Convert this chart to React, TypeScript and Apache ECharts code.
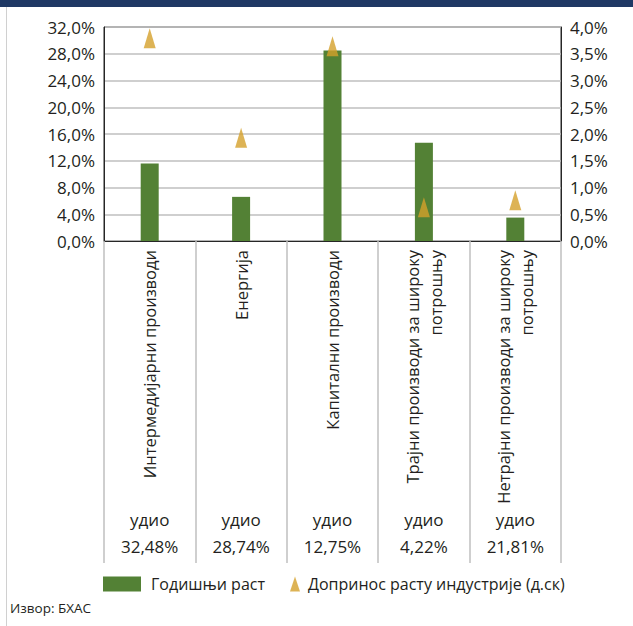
import React, { useEffect, useRef } from "react";
import * as echarts from "echarts";

const categories = [
  "Интермедијарни производи",
  "Енергија",
  "Капитални производи",
  "Трајни производи за широку\nпотрошњу",
  "Нетрајни производи за широку\nпотрошњу",
];
const shares = ["32,48%", "28,74%", "12,75%", "4,22%", "21,81%"];
const shareLabel = "удио";
const annualGrowth = [11.6, 6.6, 28.5, 14.7, 3.5];
const contribution = [3.79, 1.93, 3.64, 0.63, 0.76];
const seriesNames = ["Годишњи раст", "Допринос расту индустрије (д.ск)"];
const sourceText = "Извор: БХАС";

const FONT = "'Open Sans', 'Noto Sans', sans-serif";
const TXT = "#231f20";

const fmt = (v: number) => v.toFixed(1).replace(".", ",") + "%";

export default function App() {
  const ref = useRef<HTMLDivElement>(null);
  useEffect(() => {
    if (!ref.current) return;
    const chart = echarts.init(ref.current, undefined, { renderer: "svg" });
    chart.setOption({
      animation: false,
      backgroundColor: "#ffffff",
      textStyle: { fontFamily: FONT },
      grid: {
        left: 104,
        right: 72,
        top: 27,
        bottom: 385,
        show: true,
        borderColor: "#262626",
        borderWidth: 1,
      },
      legend: [
        {
          data: [{ name: seriesNames[0], icon: "rect" }],
          left: 98,
          top: 571,
          itemWidth: 38,
          itemHeight: 15,
          textStyle: { fontSize: 16, color: TXT, fontFamily: FONT, padding: [0, 0, 0, 5] },
        },
        {
          data: [{ name: seriesNames[1], icon: "triangle" }],
          left: 285,
          top: 571,
          itemWidth: 10,
          itemHeight: 15,
          textStyle: { fontSize: 16, color: TXT, fontFamily: FONT, padding: [0, 0, 0, 3] },
        },
      ],
      xAxis: [
        {
          type: "category",
          data: categories,
          position: "bottom",
          axisLine: { show: true, lineStyle: { color: "#262626", width: 1 } },
          axisTick: { show: true, length: 322, lineStyle: { color: "#bfbfbf", width: 1.5 } },
          axisLabel: {
            interval: 0,
            rotate: 90,
            margin: 9,
            fontSize: 16.5,
            lineHeight: 23,
            color: TXT,
            fontFamily: FONT,
          },
        },
        {
          type: "category",
          data: shares,
          position: "bottom",
          offset: 265,
          axisLine: { show: false },
          axisTick: { show: false },
          axisLabel: {
            interval: 0,
            margin: 0,
            fontSize: 17,
            lineHeight: 27,
            color: TXT,
            fontFamily: FONT,
            formatter: (v: string) => shareLabel + "\n" + v,
          },
        },
      ],
      yAxis: [
        {
          type: "value",
          min: 0,
          max: 32,
          interval: 4,
          axisLine: { show: true, lineStyle: { color: "#262626" } },
          axisTick: { show: false },
          splitLine: { show: true, lineStyle: { color: "#bfbfbf", width: 1.5 } },
          axisLabel: { fontSize: 17, color: TXT, margin: 9, fontFamily: FONT, formatter: fmt },
        },
        {
          type: "value",
          min: 0,
          max: 4,
          interval: 0.5,
          position: "right",
          axisLine: { show: true, lineStyle: { color: "#262626" } },
          axisTick: { show: false },
          splitLine: { show: false },
          axisLabel: { fontSize: 17, color: TXT, margin: 9, fontFamily: FONT, formatter: fmt },
        },
      ],
      series: [
        {
          name: seriesNames[0],
          type: "bar",
          xAxisIndex: 0,
          yAxisIndex: 0,
          data: annualGrowth,
          barWidth: 18,
          itemStyle: { color: "#538135" },
        },
        {
          name: seriesNames[1],
          type: "scatter",
          xAxisIndex: 0,
          yAxisIndex: 1,
          data: contribution,
          symbol: "triangle",
          symbolSize: [12, 20],
          itemStyle: { color: "#d4a02a" },
          z: 5,
        },
      ],
      graphic: [
        { type: "rect", left: 0, top: 0, shape: { width: 633, height: 7 }, style: { fill: "#1f3864" } },
        { type: "line", shape: { x1: 6.5, y1: 7, x2: 6.5, y2: 626 }, style: { stroke: "#d0d0d0", lineWidth: 1 } },
        {
          type: "text",
          left: 10,
          top: 601,
          style: { text: sourceText, fontSize: 13.5, fill: TXT, fontFamily: FONT },
        },
      ],
    });
    return () => chart.dispose();
  }, []);
  return <div ref={ref} style={{ width: 633, height: 626, position: "absolute", left: 0, top: 0 }} />;
}
